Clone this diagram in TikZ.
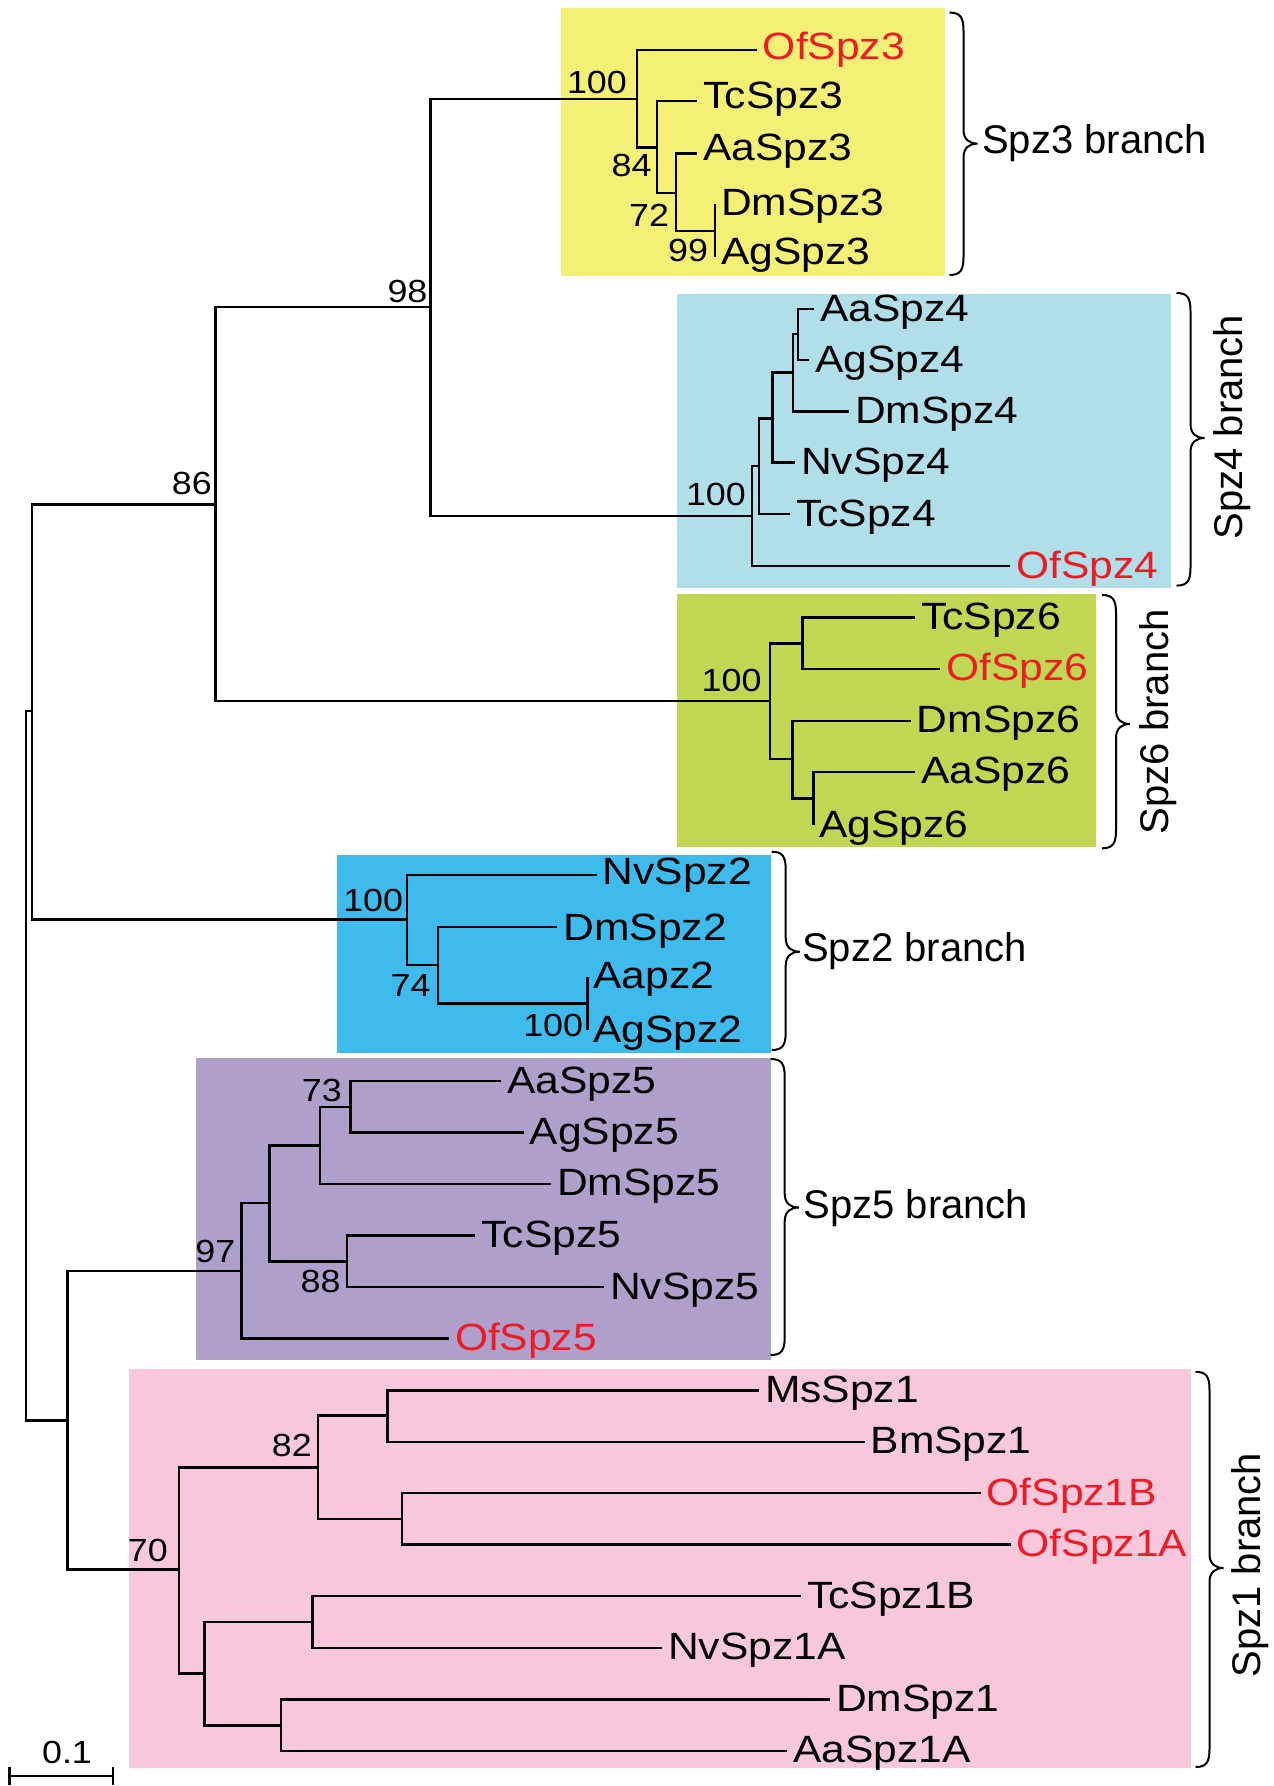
\documentclass[tikz,border=0pt]{standalone}
\usepackage{fontspec}
\setmainfont{Liberation Sans}
\newfontfamily\widefont{Liberation Sans}[FakeStretch=1.12]
\definecolor{bxyellow}{RGB}{243,240,117}
\definecolor{bxlblue}{RGB}{176,223,234}
\definecolor{bxgreen}{RGB}{191,215,82}
\definecolor{bxblue}{RGB}{63,186,236}
\definecolor{bxpurple}{RGB}{175,159,203}
\definecolor{bxpink}{RGB}{247,199,220}
\definecolor{ofred}{RGB}{237,28,36}
\newcommand{\brk}[4]{%
 \draw[braceline] (#1,#2) .. controls (#1+11,#2) and (#1+14,#2+5) .. (#1+14,#2+18) -- (#1+14,#3-14) .. controls (#1+14,#3-4) and (#1+20,#3) .. (#1+28,#3) .. controls (#1+20,#3) and (#1+14,#3+4) .. (#1+14,#3+14) -- (#1+14,#4-18) .. controls (#1+14,#4-5) and (#1+11,#4) .. (#1,#4);}
\begin{document}
\begin{tikzpicture}[x=1pt,y=-1pt,
  tree/.style={line width=2.4pt, black},
  braceline/.style={line width=2pt, black},
  tip/.style={anchor=base west, inner sep=0pt, xshift=6pt, yshift=-12pt, font=\widefont\fontsize{38}{38}\selectfont},
  ofs/.style={tip, text=ofred},
  bs/.style={anchor=base east, inner sep=0pt, font=\widefont\fontsize{32}{32}\selectfont},
  brl/.style={anchor=base west, inner sep=0pt, font=\fontsize{40}{40}\selectfont},
  brv/.style={anchor=base, rotate=90, inner sep=0pt, font=\fontsize{40}{40}\selectfont}]
\useasboundingbox (0,0) rectangle (1274,1786);
% coloured boxes
\fill[bxyellow] (561,7.7) rectangle (945,275.6);
\fill[bxlblue] (677,294) rectangle (1171,588);
\fill[bxgreen] (676.7,594) rectangle (1096,846.7);
\fill[bxblue] (336.7,855) rectangle (771,1052.7);
\fill[bxpurple] (196,1057.6) rectangle (770.7,1360);
\fill[bxpink] (129,1369.4) rectangle (1191,1768);
% internal nodes
\coordinate (R) at (25.7,1063);
\coordinate (A) at (32.2,711);
\coordinate (B) at (67.3,1420.6);
\coordinate (N86) at (215.4,504.4);
\coordinate (N98) at (430.5,307);
\coordinate (C3) at (637,99);
\coordinate (N84) at (656.7,147.3);
\coordinate (N72) at (675.7,192.7);
\coordinate (N99) at (715,230.7);
\coordinate (C4) at (752,516);
\coordinate (N4a) at (759,466);
\coordinate (N4b) at (772.6,418.6);
\coordinate (N4c) at (792.7,372.6);
\coordinate (N4d) at (798,334);
\coordinate (C6) at (770,700.7);
\coordinate (N6a) at (802.3,643.3);
\coordinate (N6b) at (792.3,759);
\coordinate (N6c) at (813.3,798.3);
\coordinate (C2) at (406.7,919.3);
\coordinate (N74) at (437.7,965);
\coordinate (N2b) at (587.3,1003.3);
\coordinate (C5) at (241.5,1271);
\coordinate (N5c) at (269.3,1203);
\coordinate (N5d) at (320,1145.6);
\coordinate (N73) at (350.5,1107);
\coordinate (N88) at (347,1261.3);
\coordinate (C1) at (178.7,1569.6);
\coordinate (N82) at (317.8,1467.4);
\coordinate (NE) at (387.6,1415.6);
\coordinate (NF) at (401.9,1518.9);
\coordinate (NG) at (204.4,1673.5);
\coordinate (NH) at (312.5,1621.7);
\coordinate (NI) at (281,1725.3);
% tip ends
\coordinate (tOfSpz3) at (756.7,50);
\coordinate (tTcSpz3) at (697.3,100.7);
\coordinate (tAaSpz3) at (697.3,153.3);
\coordinate (tDmSpz3) at (715,204);
\coordinate (tAgSpz3) at (715,256.7);
\coordinate (tAaSpz4) at (814,309);
\coordinate (tAgSpz4) at (809,360);
\coordinate (tDmSpz4) at (849,411.6);
\coordinate (tNvSpz4) at (795,462.6);
\coordinate (tTcSpz4) at (790,514);
\coordinate (tOfSpz4) at (1010,566);
\coordinate (tTcSpz6) at (915,617.3);
\coordinate (tOfSpz6) at (940,668.7);
\coordinate (tDmSpz6) at (910.7,720.7);
\coordinate (tAaSpz6) at (915,771.7);
\coordinate (tAgSpz6) at (813.3,825);
\coordinate (tNvSpz2) at (596.7,875);
\coordinate (tDmSpz2) at (557.3,926.7);
\coordinate (tAapz2) at (587.3,976.7);
\coordinate (tAgSpz2) at (587.3,1030);
\coordinate (tAaSpz5) at (501,1081);
\coordinate (tAgSpz5) at (523.5,1132.3);
\coordinate (tDmSpz5) at (551,1183.7);
\coordinate (tTcSpz5) at (475.3,1235.6);
\coordinate (tNvSpz5) at (604,1287);
\coordinate (tOfSpz5) at (448.8,1338.4);
\coordinate (tMsSpz1) at (759,1390.3);
\coordinate (tBmSpz1) at (864.5,1441.7);
\coordinate (tOfSpz1B) at (980.5,1493);
\coordinate (tOfSpz1A) at (1010.6,1544.6);
\coordinate (tTcSpz1B) at (801,1596);
\coordinate (tNvSpz1A) at (662,1647.9);
\coordinate (tDmSpz1) at (830,1699.3);
\coordinate (tAaSpz1A) at (787,1750.7);
% edges
\draw[tree] (R) |- (A);
\draw[tree] (R) |- (B);
\draw[tree] (A) |- (N86);
\draw[tree] (A) |- (C2);
\draw[tree] (N86) |- (N98);
\draw[tree] (N86) |- (C6);
\draw[tree] (N98) |- (C3);
\draw[tree] (N98) |- (C4);
\draw[tree] (C3) |- (tOfSpz3);
\draw[tree] (C3) |- (N84);
\draw[tree] (N84) |- (tTcSpz3);
\draw[tree] (N84) |- (N72);
\draw[tree] (N72) |- (tAaSpz3);
\draw[tree] (N72) |- (N99);
\draw[tree] (N99) |- (tDmSpz3);
\draw[tree] (N99) |- (tAgSpz3);
\draw[tree] (C4) |- (tOfSpz4);
\draw[tree] (C4) |- (N4a);
\draw[tree] (N4a) |- (tTcSpz4);
\draw[tree] (N4a) |- (N4b);
\draw[tree] (N4b) |- (tNvSpz4);
\draw[tree] (N4b) |- (N4c);
\draw[tree] (N4c) |- (tDmSpz4);
\draw[tree] (N4c) |- (N4d);
\draw[tree] (N4d) |- (tAaSpz4);
\draw[tree] (N4d) |- (tAgSpz4);
\draw[tree] (C6) |- (N6a);
\draw[tree] (C6) |- (N6b);
\draw[tree] (N6a) |- (tTcSpz6);
\draw[tree] (N6a) |- (tOfSpz6);
\draw[tree] (N6b) |- (tDmSpz6);
\draw[tree] (N6b) |- (N6c);
\draw[tree] (N6c) |- (tAaSpz6);
\draw[tree] (N6c) |- (tAgSpz6);
\draw[tree] (C2) |- (tNvSpz2);
\draw[tree] (C2) |- (N74);
\draw[tree] (N74) |- (tDmSpz2);
\draw[tree] (N74) |- (N2b);
\draw[tree] (N2b) |- (tAapz2);
\draw[tree] (N2b) |- (tAgSpz2);
\draw[tree] (B) |- (C5);
\draw[tree] (B) |- (C1);
\draw[tree] (C5) |- (N5c);
\draw[tree] (C5) |- (tOfSpz5);
\draw[tree] (N5c) |- (N5d);
\draw[tree] (N5c) |- (N88);
\draw[tree] (N5d) |- (N73);
\draw[tree] (N5d) |- (tDmSpz5);
\draw[tree] (N73) |- (tAaSpz5);
\draw[tree] (N73) |- (tAgSpz5);
\draw[tree] (N88) |- (tTcSpz5);
\draw[tree] (N88) |- (tNvSpz5);
\draw[tree] (C1) |- (N82);
\draw[tree] (C1) |- (NG);
\draw[tree] (N82) |- (NE);
\draw[tree] (N82) |- (NF);
\draw[tree] (NE) |- (tMsSpz1);
\draw[tree] (NE) |- (tBmSpz1);
\draw[tree] (NF) |- (tOfSpz1B);
\draw[tree] (NF) |- (tOfSpz1A);
\draw[tree] (NG) |- (NH);
\draw[tree] (NG) |- (NI);
\draw[tree] (NH) |- (tTcSpz1B);
\draw[tree] (NH) |- (tNvSpz1A);
\draw[tree] (NI) |- (tDmSpz1);
\draw[tree] (NI) |- (tAaSpz1A);
% tip labels
\node[ofs, yshift=3pt] (lOfSpz3) at (tOfSpz3) {OfSpz3};
\node[tip, yshift=4pt] (lTcSpz3) at (tTcSpz3) {TcSpz3};
\node[tip, yshift=5pt] (lAaSpz3) at (tAaSpz3) {AaSpz3};
\node[tip, yshift=1pt] (lDmSpz3) at (tDmSpz3) {DmSpz3};
\node[tip, yshift=4pt] (lAgSpz3) at (tAgSpz3) {AgSpz3};
\node[tip] (lAaSpz4) at (tAaSpz4) {AaSpz4};
\node[tip] (lAgSpz4) at (tAgSpz4) {AgSpz4};
\node[tip] (lDmSpz4) at (tDmSpz4) {DmSpz4};
\node[tip] (lNvSpz4) at (tNvSpz4) {NvSpz4};
\node[tip] (lTcSpz4) at (tTcSpz4) {TcSpz4};
\node[ofs] (lOfSpz4) at (tOfSpz4) {OfSpz4};
\node[tip] (lTcSpz6) at (tTcSpz6) {TcSpz6};
\node[ofs] (lOfSpz6) at (tOfSpz6) {OfSpz6};
\node[tip] (lDmSpz6) at (tDmSpz6) {DmSpz6};
\node[tip] (lAaSpz6) at (tAaSpz6) {AaSpz6};
\node[tip] (lAgSpz6) at (tAgSpz6) {AgSpz6};
\node[tip, yshift=3pt] (lNvSpz2) at (tNvSpz2) {NvSpz2};
\node[tip, yshift=-2pt] (lDmSpz2) at (tDmSpz2) {DmSpz2};
\node[tip] (lAapz2) at (tAapz2) {Aapz2};
\node[tip] (lAgSpz2) at (tAgSpz2) {AgSpz2};
\node[tip] (lAaSpz5) at (tAaSpz5) {AaSpz5};
\node[tip] (lAgSpz5) at (tAgSpz5) {AgSpz5};
\node[tip] (lDmSpz5) at (tDmSpz5) {DmSpz5};
\node[tip] (lTcSpz5) at (tTcSpz5) {TcSpz5};
\node[tip] (lNvSpz5) at (tNvSpz5) {NvSpz5};
\node[ofs] (lOfSpz5) at (tOfSpz5) {OfSpz5};
\node[tip] (lMsSpz1) at (tMsSpz1) {MsSpz1};
\node[tip] (lBmSpz1) at (tBmSpz1) {BmSpz1};
\node[ofs] (lOfSpz1B) at (tOfSpz1B) {OfSpz1B};
\node[ofs] (lOfSpz1A) at (tOfSpz1A) {OfSpz1A};
\node[tip] (lTcSpz1B) at (tTcSpz1B) {TcSpz1B};
\node[tip] (lNvSpz1A) at (tNvSpz1A) {NvSpz1A};
\node[tip] (lDmSpz1) at (tDmSpz1) {DmSpz1};
\node[tip] (lAaSpz1A) at (tAaSpz1A) {AaSpz1A};
% bootstrap values
\node[bs] (b1) at (627,93.3) {100};
\node[bs] (b2) at (651.7,176.7) {84};
\node[bs] (b3) at (669.3,226.7) {72};
\node[bs] (b4) at (708.3,261.7) {99};
\node[bs] (b5) at (427.6,302) {98};
\node[bs] (b6) at (212,494) {86};
\node[bs] (b7) at (746,505) {100};
\node[bs] (b8) at (761.7,691.7) {100};
\node[bs] (b9) at (403.3,911) {100};
\node[bs] (b10) at (430.7,996) {74};
\node[bs] (b11) at (583.3,1036.7) {100};
\node[bs] (b12) at (342,1101) {73};
\node[bs] (b13) at (235.4,1262) {97};
\node[bs] (b14) at (340.7,1292) {88};
\node[bs] (b15) at (312,1456.6) {82};
\node[bs] (b16) at (168,1561) {70};
% braces and branch labels
\brk{949.5}{12.6}{143.6}{275}
\node[brl] (g3) at (982,153) {Spz3 branch};
\brk{1176.5}{293}{438}{585.6}
\node[brv] (g4) at (1242,427) {Spz4 branch};
\brk{1102}{595}{724}{848.3}
\node[brv] (g6) at (1168.3,721.7) {Spz6 branch};
\brk{771.7}{851.7}{951.7}{1050}
\node[brl] (g2) at (802,961) {Spz2 branch};
\brk{770.7}{1059}{1207.5}{1355}
\node[brl] (g5) at (803.4,1218.5) {Spz5 branch};
\brk{1195.5}{1371.8}{1568}{1767}
\node[brv] (g1) at (1260,1565) {Spz1 branch};
% scale bar
\coordinate (sbL) at (9.3,1776);
\coordinate (sbR) at (113,1776);
\draw[tree] (sbL) -- (sbR);
\draw[tree] ([yshift=9pt]sbL) -- ([yshift=-9pt]sbL);
\draw[tree] ([yshift=9pt]sbR) -- ([yshift=-9pt]sbR);
\node[bs, anchor=base] (sbt) at (67,1763) {0.1};
\end{tikzpicture}
\end{document}
